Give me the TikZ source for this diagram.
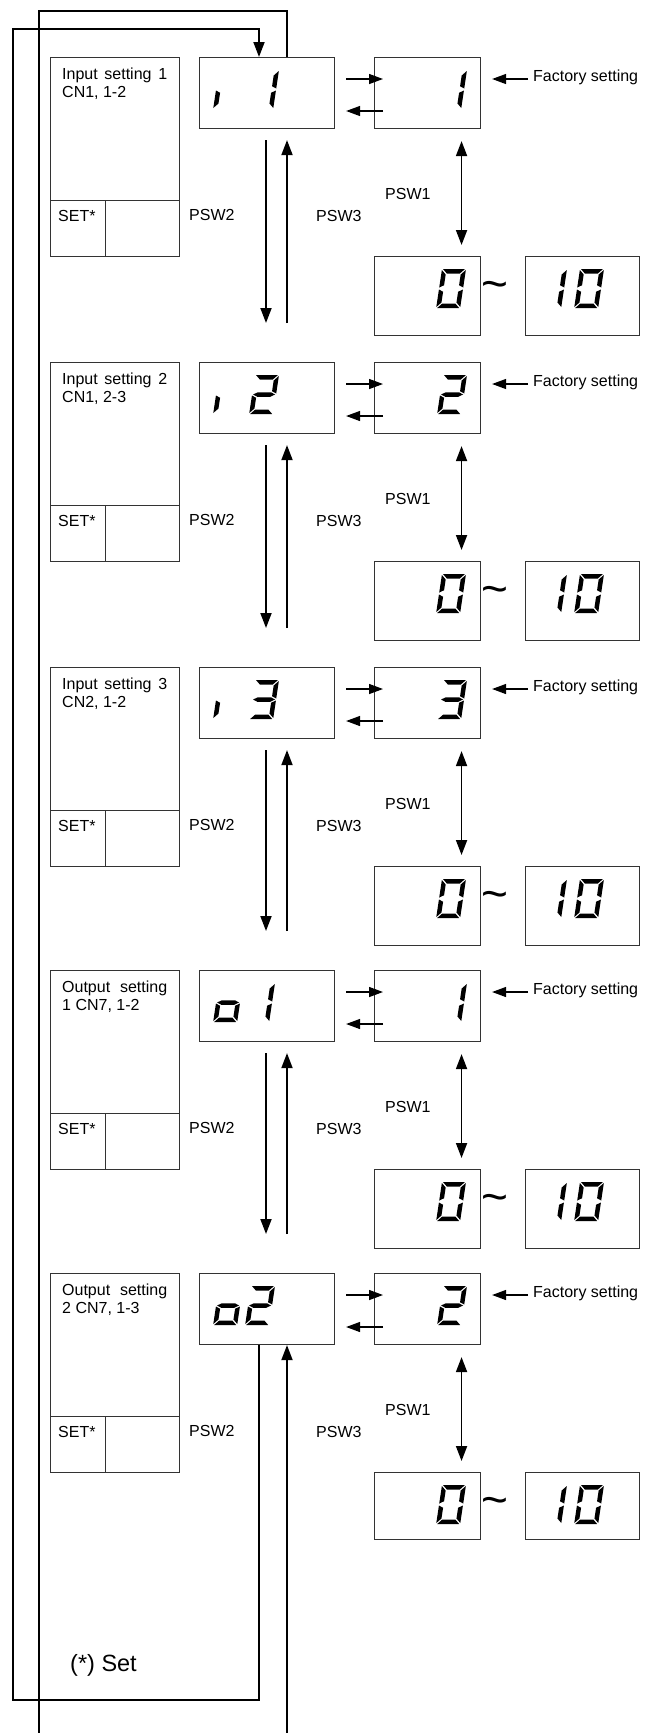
\documentclass[tikz,border=0pt]{standalone}
\usepackage{fontspec}
\setmainfont{Liberation Sans}
\usetikzlibrary{arrows.meta}

% seven-segment segments (local coords, y downward, origin = top-left of cell)
\newcommand\segA{\fill (1,0)--(23,0)--(18.5,4.5)--(5.5,4.5)--cycle;}
\newcommand\segB{\fill (24,1)--(19.5,5.5)--(19.5,16.25)--(24,18.5)--cycle;}
\newcommand\segC{\fill (24,38)--(19.5,33.5)--(19.5,22.75)--(24,20.5)--cycle;}
\newcommand\segD{\fill (1,39)--(23,39)--(18.5,34.5)--(5.5,34.5)--cycle;}
\newcommand\segE{\fill (0,38)--(4.5,33.5)--(4.5,22.75)--(0,20.5)--cycle;}
\newcommand\segF{\fill (0,1)--(4.5,5.5)--(4.5,16.25)--(0,18.5)--cycle;}
\newcommand\segG{\fill (1,19.5)--(5.5,17.25)--(18.5,17.25)--(23,19.5)--(18.5,21.75)--(5.5,21.75)--cycle;}
\newcommand\sevdig[3]{\begin{scope}[shift={(#1,#2)},xslant=0.15]#3\end{scope}}
\newcommand\dgzero{\segA\segB\segC\segD\segE\segF}
\newcommand\dgone{\segB\segC}
\newcommand\dgtwo{\segA\segB\segG\segE\segD}
\newcommand\dgthree{\segA\segB\segG\segC\segD}
\newcommand\dgo{\segG\segC\segD\segE}
\newcommand\dgi{\segE}

\tikzset{
  box/.style={draw=black!80, line width=1.1pt, inner sep=0pt, anchor=north west},
  txt/.style={inner sep=0pt, font=\fontsize{16}{18}\selectfont},
  arr/.style={line width=1.8pt, -{Triangle[length=15pt,width=11pt]}},
  sarr/.style={line width=1.3pt, -{Triangle[length=14pt,width=10pt]}},
  darr/.style={line width=1.8pt, {Triangle[length=15pt,width=11pt]}-{Triangle[length=15pt,width=11pt]}},
  wire/.style={line width=1.8pt},
  tildestyle/.style={inner sep=0pt, anchor=center, font=\fontsize{46}{46}\selectfont},
}

% #1 id, #2 top y, #3 label, #4 range box height
\newcommand\stage[4]{%
  \node[box, minimum width=129pt, minimum height=143pt] (lab#1) at (50,#2) {};
  \node[box, minimum width=55pt, minimum height=56pt] (set#1) at (50,#2+143) {};
  \node[box, minimum width=74pt, minimum height=56pt] (key#1) at (105,#2+143) {};
  \node[txt, anchor=north west, text width=105pt, align=justify] (labt#1) at (62,#2+11)
    {\hyphenpenalty=10000 \exhyphenpenalty=10000 \tolerance=10000 #3};
  \node[txt, anchor=base west] (sett#1) at (58,#2+164) {SET*};
  \node[box, minimum width=135pt, minimum height=71pt] (disp#1) at (199,#2) {};
  \node[box, minimum width=106pt, minimum height=71pt] (val#1) at (374,#2) {};
  \node[box, minimum width=106pt, minimum height=#4pt] (rlo#1) at (374,#2+199) {};
  \node[box, minimum width=114pt, minimum height=#4pt] (rhi#1) at (525,#2+199) {};
  \node[tildestyle] (tl#1) at (494.5,#2+233) {\char"007E};
  \node[txt, anchor=base west] (fs#1) at (533,#2+24) {Factory setting};
  \node[txt, anchor=west] (pa#1) at (385,#2+137) {PSW1};
  \node[txt, anchor=west] (pb#1) at (189,#2+158) {PSW2};
  \node[txt, anchor=west] (pc#1) at (316,#2+159) {PSW3};
  \draw[sarr] ([xshift=11pt,yshift=-22pt]disp#1.north east) -- ([xshift=9pt,yshift=-22pt]val#1.north west);
  \draw[sarr] ([xshift=9pt,yshift=-54pt]val#1.north west) -- ([xshift=11pt,yshift=-54pt]disp#1.north east);
  \draw[sarr] ([xshift=-5pt,yshift=2pt]fs#1.base west) -- ([xshift=11pt,yshift=-22pt]val#1.north east);
  \draw[darr] ([xshift=34pt,yshift=-12pt]val#1.south) -- ([xshift=34pt,yshift=11pt]rlo#1.north);
  \sevdig{442}{#2+212}{\dgzero}
  \sevdig{543}{#2+212}{\dgone}
  \sevdig{580}{#2+212}{\dgzero}
}
\newcommand\between[2]{%
  \draw[arr] ([xshift=67pt,yshift=-11pt]disp#1.south west) -- ([xshift=67pt,yshift=39pt]disp#2.north west);
  \draw[arr] ([xshift=88pt,yshift=39pt]disp#2.north west) -- ([xshift=88pt,yshift=-11pt]disp#1.south west);
}

\begin{document}
\begin{tikzpicture}[x=1pt,y=-1pt]
  \fill[white] (0,0) rectangle (647,1733);
  \useasboundingbox (0,0) rectangle (647,1733);

  \stage{a}{57}{Input setting 1 CN1, 1-2}{79}
  \stage{b}{362}{Input setting 2 CN1, 2-3}{79}
  \stage{c}{667}{Input setting 3 CN2, 1-2}{79}
  \stage{d}{970}{Output setting 1 CN7, 1-2}{79}
  \stage{e}{1273}{Output setting 2 CN7, 1-3}{67}

  % display digits
  \sevdig{219}{70}{\dgi}   \sevdig{255}{70}{\dgone}
  \sevdig{219}{375}{\dgi}  \sevdig{255}{375}{\dgtwo}
  \sevdig{219}{680}{\dgi}  \sevdig{255}{680}{\dgthree}
  \sevdig{219}{983}{\dgo}  \sevdig{251}{983}{\dgone}
  \sevdig{219}{1286}{\dgo} \sevdig{251}{1286}{\dgtwo}
  % value digits
  \sevdig{443}{70}{\dgone}
  \sevdig{443}{375}{\dgtwo}
  \sevdig{443}{680}{\dgthree}
  \sevdig{443}{983}{\dgone}
  \sevdig{443}{1286}{\dgtwo}

  \between{a}{b}
  \between{b}{c}
  \between{c}{d}
  \between{d}{e}

  % return loops
  \coordinate (botA) at (39,1733);
  \coordinate (botB) at (287,1733);
  \coordinate (cornBL) at (13,1700);
  \coordinate (cornTL) at (13,29);
  \coordinate (cornTT) at (39,11);
  \draw[arr] ([xshift=60pt]dispe.south west) |- (cornBL) -- (cornTL) -| ([xshift=60pt]dispa.north west);
  \draw[wire] ([xshift=88pt]dispa.north west) |- (cornTT) -- (botA);
  \draw[arr] (botB) -- ([xshift=88pt]dispe.south west);

  \node[inner sep=0pt, anchor=base west, font=\fontsize{23.5}{28}\selectfont] (note) at (70,1671) {(*) Set};
\end{tikzpicture}
\end{document}
